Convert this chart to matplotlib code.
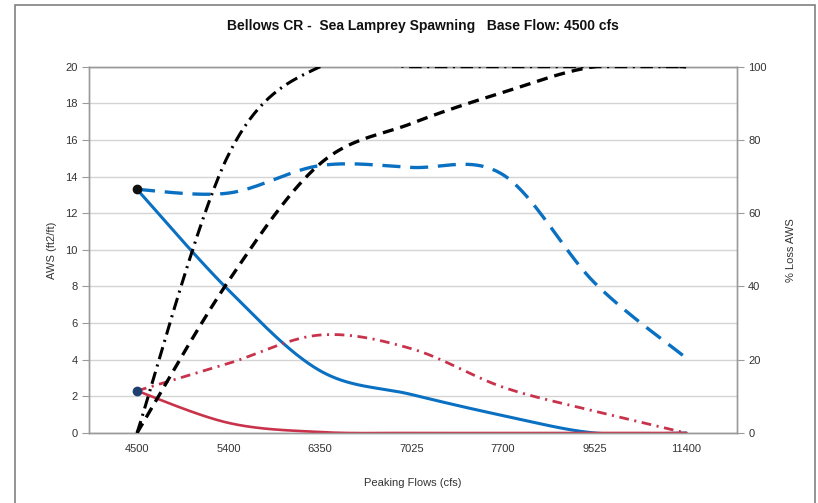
import matplotlib
matplotlib.use("Agg")
import matplotlib.pyplot as plt
import numpy as np
from matplotlib.patches import Rectangle

plt.rcParams['font.family'] = ['Liberation Sans', 'DejaVu Sans']
plt.rcParams['lines.scale_dashes'] = False

categories = ["4500", "5400", "6350", "7025", "7700", "9525", "11400"]
aws_blue = [13.3, 7.8, 3.4, 2.1, 0.95, 0.0, 0.0]
aws_blue_dashed = [13.3, 13.1, 14.6, 14.5, 14.1, 8.2, 4.1]
aws_red = [2.3, 0.55, 0.05, 0.0, 0.0, 0.0, 0.0]
aws_red_dashdot = [2.3, 3.8, 5.35, 4.6, 2.5, 1.2, 0.0]
loss_blue = [0, 41.5, 73.5, 84.5, 93, 100, 100]
loss_red = [0, 76, 100, 100, 100, 100, 100]


def excel_smooth(xs, ys, n=40):
    xs = np.asarray(xs, float)
    ys = np.asarray(ys, float)
    P = np.column_stack([xs, ys])
    m = len(P)
    out = []
    t = np.linspace(0, 1, n)
    for i in range(m - 1):
        p0 = P[i - 1] if i > 0 else P[i]
        p1 = P[i]
        p2 = P[i + 1]
        p3 = P[i + 2] if i + 2 < m else P[i + 1]
        c1 = p1 + (p2 - p0) / 6.0
        c2 = p2 - (p3 - p1) / 6.0
        seg = ((1 - t) ** 3)[:, None] * p1 + (3 * (1 - t) ** 2 * t)[:, None] * c1 \
            + (3 * (1 - t) * t ** 2)[:, None] * c2 + (t ** 3)[:, None] * p2
        if i > 0:
            seg = seg[1:]
        out.append(seg)
    out = np.vstack(out)
    return out[:, 0], out[:, 1]


fig = plt.figure(figsize=(8.18, 5.03), dpi=100)
ax = fig.add_axes([0.1088, 0.1392, 0.7922, 0.7282])
ax2 = ax.twinx()

x = np.arange(len(categories))
blue = '#0A70C2'
red = '#C8334B'

sx, sy = excel_smooth(x, aws_blue)
ax.plot(sx, sy, color=blue, lw=2.2, solid_capstyle='round', zorder=4)
sx, sy = excel_smooth(x, aws_blue_dashed)
ax.plot(sx, sy, color=blue, lw=2.4, dashes=(13, 7), zorder=4)
sx, sy = excel_smooth(x, aws_red)
ax.plot(sx, sy, color=red, lw=1.9, zorder=4)
sx, sy = excel_smooth(x, aws_red_dashdot)
ax.plot(sx, sy, color=red, lw=2.0, dashes=(7, 4, 1.5, 4), zorder=4)

ax.plot([x[0]], [aws_blue[0]], 'o', color='#111111', ms=6, zorder=6)
ax.plot([x[0]], [aws_red[0]], 'o', color='#1F3F6F', ms=6, zorder=6)

sx, sy = excel_smooth(x, loss_blue)
ax2.plot(sx, sy, color='black', lw=2.4, dashes=(8, 5), zorder=4)
sx, sy = excel_smooth(x, loss_red)
ax2.plot(sx, sy, color='black', lw=2.2, dashes=(9, 4, 1.5, 4), zorder=4)

ax.set_xlim(-0.525, 6.557)
ax2.set_xlim(-0.525, 6.557)
ax.set_ylim(0, 20)
ax2.set_ylim(0, 100)
ax.set_yticks(np.arange(0, 21, 2))
ax2.set_yticks(np.arange(0, 101, 20))
ax.set_xticks(x)
ax.set_xticklabels(categories)

ax.grid(axis='y', color='#d4d4d4', lw=1.0)
ax.set_axisbelow(True)

for a in (ax, ax2):
    for s in a.spines.values():
        s.set_color('#9a9a9a')
        s.set_linewidth(1.0)
ax.tick_params(axis='x', length=0, pad=8, labelsize=8, colors='#333333')
ax.tick_params(axis='y', length=5, width=0.8, color='#9a9a9a', labelsize=8, labelcolor='#333333', pad=3)
ax2.tick_params(axis='y', length=5, width=0.8, color='#9a9a9a', labelsize=8, labelcolor='#333333', pad=3)

ax.set_xlabel('Peaking Flows (cfs)', fontsize=8, color='#333333', labelpad=17)
ax.set_ylabel('AWS (ft2/ft)', fontsize=8, color='#333333', labelpad=6)
ax2.set_ylabel('% Loss AWS', fontsize=8, color='#333333', rotation=90, labelpad=14)

fig.text(0.517, 0.948, 'Bellows CR -  Sea Lamprey Spawning   Base Flow: 4500 cfs',
         ha='center', va='center', fontsize=10, fontweight='bold', color='#111111')

fig.patches.append(Rectangle((15 / 818, -0.02), 800 / 818, 1.0 - 5 / 503 + 0.02,
                             transform=fig.transFigure, fill=False,
                             edgecolor='#808080', lw=1.2))

fig.savefig('out.png', dpi=100)
